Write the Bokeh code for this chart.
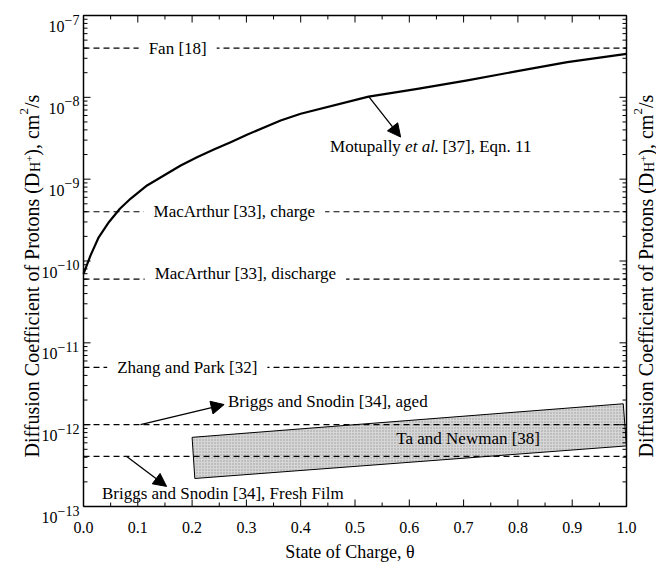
import math
from bokeh.plotting import figure
from bokeh.models import Range1d, LogScale, Arrow, NormalHead, ColumnDataSource
from bokeh.core.properties import value
from bokeh.embed import file_html
from bokeh.resources import INLINE

# ---------------- data ----------------
# Motupally et al. [37], Eqn. 11
soc = [0.0, 0.013, 0.028, 0.047, 0.067, 0.087, 0.117, 0.148, 0.179, 0.209, 0.24, 0.271,
       0.302, 0.363, 0.4, 0.525, 0.615, 0.707, 0.799, 0.891, 1.0]
d_motupally = [6.97e-11, 1.17e-10, 1.95e-10, 3.0e-10, 4.35e-10, 5.8e-10, 8.38e-10,
               1.11e-9, 1.47e-9, 1.85e-9, 2.30e-9, 2.83e-9, 3.52e-9, 5.2e-9, 6.3e-9,
               1.02e-8, 1.27e-8, 1.61e-8, 2.09e-8, 2.69e-8, 3.4e-8]

# constant literature values (dashed lines)
ref_values = [4.0e-8, 4.0e-10, 6.0e-11, 5.0e-12, 1.0e-12, 4.1e-13]

# Ta and Newman [38] band (polygon corners)
ta_soc = [0.2, 0.994, 1.0, 0.205]
ta_d = [7.0e-13, 1.8e-12, 5.5e-13, 2.2e-13]

# labels sitting on the dashed lines
line_label_text = ["Fan [18]", "MacArthur [33], charge", "MacArthur [33], discharge",
                   "Zhang and Park [32]"]
line_label_x = [0.12, 0.129, 0.131, 0.062]
line_label_y = [4.0e-8, 4.0e-10, 7.0e-11, 5.0e-12]

# free labels
free_label_text = ["Briggs and Snodin [34], aged", "Ta and Newman [38]",
                   "Briggs and Snodin [34], Fresh Film"]
free_label_x = [0.266, 0.576, 0.034]
free_label_y = [1.9e-12, 6.7e-13, 1.46e-13]

moto_text = ["Motupally", "et al.", "[37], Eqn. 11"]
moto_x = 0.454
moto_y = 2.5e-9

# arrows: start -> end
arrow_x0 = [0.525, 0.105, 0.079]
arrow_y0 = [1.03e-8, 1.0e-12, 4.1e-13]
arrow_x1 = [0.584, 0.259, 0.153]
arrow_y1 = [3.27e-9, 1.76e-12, 1.76e-13]

x_ticks = [0.0, 0.1, 0.2, 0.3, 0.4, 0.5, 0.6, 0.7, 0.8, 0.9, 1.0]
x_minor = [0.05, 0.15, 0.25, 0.35, 0.45, 0.55, 0.65, 0.75, 0.85, 0.95]
x_tick_labels = ["0.0", "0.1", "0.2", "0.3", "0.4", "0.5", "0.6", "0.7", "0.8", "0.9", "1.0"]
y_min, y_max = 1e-13, 1e-7
y_tick_values = [1e-13, 1e-12, 1e-11, 1e-10, 1e-9, 1e-8, 1e-7]
y_tick_exponents = ["\u221213", "\u221212", "\u221211", "\u221210", "\u22129", "\u22128", "\u22127"]

x_title = "State of Charge, \u03b8"
y_title_parts = ["Diffusion Coefficient of Protons (D", "H", "+", "), cm", "2", "/s"]

FONT = "Liberation Serif"

# Times New Roman advance widths (per 1000 em)
TW = {' ': 250, '(': 333, ')': 333, ',': 250, '.': 250, '/': 278, '+': 564, '\u2212': 564,
      'A': 722, 'C': 667, 'D': 722, 'H': 722, 'P': 556,
      'a': 444, 'c': 444, 'd': 500, 'e': 444, 'f': 333, 'i': 278, 'm': 778,
      'n': 500, 'o': 500, 'r': 333, 's': 389, 't': 278, 'u': 500, 'l': 278,
      'p': 500, 'y': 500, 'M': 889, '[': 333, ']': 333, 'E': 611, 'q': 500}


def tw(s, size):
    return sum(TW.get(ch, 500) for ch in s) * size / 1000.0


# ---------------- geometry (canvas pixels; the page body has no margin) ----------------
W, H = 656, 564
BOX_L, BOX_R = 83, 626          # data box left / right (px from canvas left)
BOX_B, BOX_T = 58, 549          # data box bottom / top (px from canvas bottom)
lmin, lmax = math.log10(y_min), math.log10(y_max)
ppx = (BOX_R - BOX_L) / 1.0
ppd = (BOX_T - BOX_B) / (lmax - lmin)

x_lo = 0.0 - BOX_L / ppx
x_hi = 1.0 + (W - BOX_R) / ppx
y_lo = 10 ** (lmin - BOX_B / ppd)
y_hi = 10 ** (lmax + (H - BOX_T) / ppd)


def fx(px):
    """canvas px (from left) -> data x"""
    return x_lo + px / ppx


def fy(py):
    """canvas px (from bottom) -> data y"""
    return 10 ** (math.log10(y_lo) + py / ppd)


def py_of(v):
    return BOX_B + (math.log10(v) - lmin) * ppd


p = figure(width=W, height=H, x_range=Range1d(x_lo, x_hi), y_range=Range1d(y_lo, y_hi),
           x_axis_type=None, y_axis_type=None, title=None,
           output_backend="svg", toolbar_location=None, min_border=0)
p.y_scale = LogScale()
p.outline_line_color = None
p.background_fill_color = "white"
p.border_fill_color = "white"

# Ta and Newman band
p.patch(ta_soc, ta_d, fill_color="#d6d6d6", line_color="black", line_width=1,
        hatch_pattern=".", hatch_color="#9a9a9a", hatch_scale=3, hatch_weight=0.6)

# dashed reference lines
n = len(ref_values)
p.segment(x0=[x_ticks[0]] * n, y0=ref_values, x1=[x_ticks[-1]] * n, y1=ref_values,
          line_color="black", line_width=1.2, line_dash="6 4")

# labels on lines (white background cuts the dashes)
PAD = 10
p.text(x=line_label_x, y=line_label_y, text=line_label_text, text_font=value(FONT),
       text_font_size="17px", text_align="left", text_baseline="middle", text_color="black",
       x_offset=-PAD, background_fill_color="white",
       padding=dict(left=PAD, right=PAD, top=0, bottom=0))

p.text(x=free_label_x, y=free_label_y, text=free_label_text, text_font=value(FONT),
       text_font_size="17px", text_align="left", text_baseline="middle", text_color="black")

# Motupally label (with italic et al.)
off1 = tw(moto_text[0] + " ", 17)
off2 = off1 + tw("et al. ", 17)
p.text(x=[moto_x], y=[moto_y], text=[moto_text[0]], text_font=value(FONT), text_font_size="17px",
       text_align="left", text_baseline="middle", text_color="black")
p.text(x=[moto_x], y=[moto_y], text=[moto_text[1]], text_font=value(FONT), text_font_size="17px",
       text_font_style="italic", x_offset=off1,
       text_align="left", text_baseline="middle", text_color="black")
p.text(x=[moto_x], y=[moto_y], text=[moto_text[2]], text_font=value(FONT), text_font_size="17px",
       x_offset=off2, text_align="left", text_baseline="middle", text_color="black")

# curve
p.line(soc, d_motupally, line_color="black", line_width=2.2, line_join="round")

# arrows
for xs, ys, xe, ye in zip(arrow_x0, arrow_y0, arrow_x1, arrow_y1):
    p.add_layout(Arrow(x_start=xs, y_start=ys, x_end=xe, y_end=ye, line_color="black",
                       line_width=1.3,
                       end=NormalHead(size=13, fill_color="black", line_color="black")))

# ---------------- axes box and ticks ----------------
p.line([x_ticks[0], x_ticks[-1], x_ticks[-1], x_ticks[0], x_ticks[0]],
       [y_min, y_min, y_max, y_max, y_min], line_color="black", line_width=1.5)

MAJ, MIN = 7, 4
# x ticks (bottom and top, inside)
xt = x_ticks + x_minor
xl = [MAJ] * len(x_ticks) + [MIN] * len(x_minor)
p.segment(x0=xt, y0=[y_min] * len(xt), x1=xt, y1=[fy(BOX_B + L) for L in xl],
          line_color="black", line_width=1)
p.segment(x0=xt, y0=[y_max] * len(xt), x1=xt, y1=[fy(BOX_T - L) for L in xl],
          line_color="black", line_width=1)
# y ticks (left and right, inside)
y_minor = [k * v for v in y_tick_values[:-1] for k in range(2, 10)]
yt = y_tick_values + y_minor
yl = [MAJ] * len(y_tick_values) + [MIN] * len(y_minor)
p.segment(x0=[0.0] * len(yt), y0=yt, x1=[fx(BOX_L + L) for L in yl], y1=yt,
          line_color="black", line_width=1)
p.segment(x0=[1.0] * len(yt), y0=yt, x1=[fx(BOX_R - L) for L in yl], y1=yt,
          line_color="black", line_width=1)

# x tick labels
p.text(x=x_ticks, y=[fy(BOX_B - 21)] * len(x_ticks), text=x_tick_labels,
       text_font=value(FONT), text_font_size="16px", text_align="center",
       text_baseline="middle", text_color="black")

# y tick labels 10^n
right_edge = BOX_L - 4
exp_px = [right_edge - tw(e, 14) for e in y_tick_exponents]
p.text(x=[fx(e) for e in exp_px], y=[fy(py_of(v) - 11) for v in y_tick_values],
       text=["10"] * len(y_tick_values), text_font=value(FONT), text_font_size="16px",
       text_align="right", text_baseline="alphabetic", text_color="black")
p.text(x=[fx(e) for e in exp_px], y=[fy(py_of(v) - 4) for v in y_tick_values],
       text=y_tick_exponents, text_font=value(FONT), text_font_size="14px",
       text_align="left", text_baseline="alphabetic", text_color="black")

# x title
p.text(x=[fx((BOX_L + BOX_R) / 2 - 5)], y=[fy(13)], text=[x_title], text_font=value(FONT),
       text_font_size="18px", text_align="center", text_baseline="alphabetic",
       text_color="black")

# rotated y titles (left and right), built from pieces for sub/superscripts
pieces = [(y_title_parts[0], 20, 0), (y_title_parts[1], 14, 4), (y_title_parts[2], 11, -2),
          (y_title_parts[3], 20, 0), (y_title_parts[4], 13, -8), (y_title_parts[5], 20, 0)]
TITLE_START = 107  # px from canvas bottom


def add_rot_title(base_px):
    xs, ys, txt, sizes = [], [], [], []
    y = TITLE_START
    for t, size, shift in pieces:
        xs.append(fx(base_px + shift))
        ys.append(fy(y))
        txt.append(t)
        sizes.append(f"{size}px")
        y += tw(t, size)
    src = ColumnDataSource(dict(x=xs, y=ys, text=txt, size=sizes))
    p.text(x="x", y="y", text="text", text_font_size="size", source=src,
           text_font=value(FONT), angle=math.pi / 2, text_align="left",
           text_baseline="alphabetic", text_color="black")


add_rot_title(31)
add_rot_title(645)

open("out.html", "w").write(file_html(p, INLINE))
